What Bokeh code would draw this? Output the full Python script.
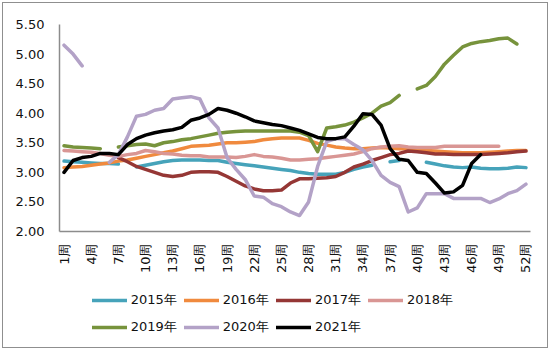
import math
from bokeh.plotting import figure
from bokeh.layouts import column
from bokeh.models import ColumnDataSource, FixedTicker, Legend, LegendItem, PrintfTickFormatter
from bokeh.embed import file_html
from bokeh.resources import INLINE

nan = float("nan")

weeks = list(range(1, 53))
tick_weeks = list(range(1, 53, 3))
tick_labels = {w: f"{w}周" for w in tick_weeks}
y_ticks = [2.0, 2.5, 3.0, 3.5, 4.0, 4.5, 5.0, 5.5]

series_names = ["2015年", "2016年", "2017年", "2018年", "2019年", "2020年", "2021年"]
series_colors = ["#46A3BA", "#F08A3E", "#953735", "#D99694", "#77933C", "#B3A2C7", "#000000"]

y2015 = [3.19, 3.18, 3.17, 3.16, 3.15, 3.15, 3.14, nan, 3.09, 3.12,
         3.15, 3.18, 3.20, 3.21, 3.21, 3.21, 3.20, 3.20, 3.17, 3.15,
         3.13, 3.11, 3.09, 3.07, 3.05, 3.03, 3.00, 2.98, 2.97, 2.97,
         2.97, 3.00, 3.05, 3.09, 3.12, nan, 3.18, 3.20, nan, nan,
         3.17, 3.14, 3.11, 3.09, 3.08, 3.09, 3.07, 3.06, 3.06, 3.07,
         3.09, 3.08]
y2016 = [3.08, 3.09, 3.10, 3.12, 3.14, 3.16, 3.19, 3.21, 3.24, 3.27,
         3.30, 3.33, 3.36, 3.40, 3.44, 3.45, 3.46, 3.48, 3.50, 3.50,
         3.51, 3.52, 3.55, 3.57, 3.58, 3.58, 3.58, 3.54, 3.49, 3.46,
         3.43, 3.41, 3.40, 3.40, 3.41, 3.42, 3.41, 3.40, 3.40, 3.38,
         3.37, 3.36, 3.35, 3.34, 3.33, 3.33, 3.33, 3.34, 3.35, 3.36,
         3.37, 3.37]
y2017 = [nan, nan, nan, nan, nan, nan, 3.25, 3.18, 3.10, 3.05,
         3.00, 2.95, 2.93, 2.95, 3.00, 3.01, 3.01, 3.00, 2.93, 2.85,
         2.77, 2.72, 2.69, 2.69, 2.70, 2.82, 2.89, 2.89, 2.90, 2.91,
         2.93, 3.00, 3.09, 3.14, 3.20, 3.25, 3.30, 3.32, 3.36, 3.35,
         3.33, 3.31, 3.31, 3.30, 3.30, 3.30, 3.30, 3.31, 3.32, 3.33,
         3.35, 3.36]
y2018 = [3.37, 3.36, 3.35, 3.34, 3.32, 3.29, 3.27, 3.30, 3.32, 3.37,
         3.35, 3.32, 3.31, 3.29, 3.28, 3.28, 3.26, 3.26, 3.26, 3.25,
         3.27, 3.30, 3.27, 3.26, 3.24, 3.21, 3.21, 3.22, 3.23, 3.25,
         3.27, 3.29, 3.31, 3.35, 3.40, 3.43, 3.44, 3.45, 3.43, 3.42,
         3.42, 3.42, 3.44, 3.44, 3.44, 3.44, 3.44, 3.44, 3.44, nan,
         nan, nan]
y2019 = [3.45, 3.43, 3.42, 3.41, 3.40, nan, 3.43, 3.45, 3.47, 3.48,
         3.45, 3.50, 3.52, 3.55, 3.57, 3.60, 3.63, 3.66, 3.68, 3.69,
         3.70, 3.70, 3.70, 3.70, 3.70, 3.70, 3.68, 3.62, 3.35, 3.75,
         3.77, 3.80, 3.85, 3.92, 4.00, 4.12, 4.18, 4.30, nan, 4.41,
         4.47, 4.62, 4.83, 4.98, 5.12, 5.18, 5.21, 5.23, 5.26, 5.27,
         5.17, nan]
y2020 = [5.15, 5.00, 4.80, nan, nan, 3.17, 3.30, 3.60, 3.95, 3.98,
         4.05, 4.08, 4.24, 4.26, 4.28, 4.24, 3.92, 3.75, 3.25, 3.05,
         2.88, 2.60, 2.58, 2.47, 2.42, 2.33, 2.27, 2.50, 3.10, 3.52,
         3.57, 3.57, 3.47, 3.38, 3.20, 2.95, 2.83, 2.76, 2.33, 2.40,
         2.64, 2.64, 2.64, 2.56, 2.56, 2.56, 2.56, 2.49, 2.55, 2.64,
         2.69, 2.80]
y2021 = [3.00, 3.20, 3.25, 3.27, 3.32, 3.32, 3.30, 3.47, 3.57, 3.63,
         3.67, 3.70, 3.72, 3.76, 3.88, 3.92, 3.98, 4.08, 4.05, 4.00,
         3.94, 3.87, 3.84, 3.81, 3.79, 3.75, 3.71, 3.65, 3.59, 3.57,
         3.57, 3.60, 3.78, 3.99, 3.98, 3.80, 3.40, 3.22, 3.20, 3.00,
         2.98, 2.82, 2.65, 2.67, 2.78, 3.15, 3.30, nan, nan, nan,
         nan, nan]

series_values = [y2015, y2016, y2017, y2018, y2019, y2020, y2021]

LINE_W = 3.5

# ---------------- main chart ----------------
p = figure(width=544, height=275, x_range=(0.5, 52.5), y_range=(2.0, 5.5),
           output_backend="svg", toolbar_location=None,
           min_border_left=56, min_border_right=17, min_border_top=21,
           min_border_bottom=47)
p.outline_line_color = None
p.xgrid.visible = False
p.ygrid.visible = False
p.background_fill_color = "white"
p.border_fill_color = "white"

sources = []
for name, color, vals in zip(series_names, series_colors, series_values):
    src = ColumnDataSource(data=dict(x=weeks, y=vals))
    sources.append(src)
    p.line("x", "y", source=src, line_color=color, line_width=LINE_W,
           line_join="round", line_cap="round")

p.xaxis.ticker = FixedTicker(ticks=tick_weeks)
p.xaxis.major_label_overrides = tick_labels
p.xaxis.major_label_orientation = math.pi / 2
p.xaxis.major_label_standoff = 12
p.yaxis.ticker = FixedTicker(ticks=y_ticks)
p.yaxis.formatter = PrintfTickFormatter(format="%.2f")
p.yaxis.major_label_standoff = 15
for ax in (p.xaxis[0], p.yaxis[0]):
    ax.axis_line_color = "#8c8c8c"
    ax.axis_line_width = 1.5
    ax.major_tick_line_color = None
    ax.minor_tick_line_color = None
    ax.major_tick_out = 0
    ax.major_tick_in = 0
    ax.major_label_text_color = "#111111"
    ax.major_label_text_font = "DejaVu Sans"
p.yaxis.major_label_text_font_size = "13px"
p.xaxis.major_label_text_font_size = "13px"

# ---------------- legend strip ----------------
# The same series sources are reused; their points fall outside this strip's
# ranges, so only the legend shows.
lg = figure(width=544, height=69, x_range=(-2, -1), y_range=(-2, -1),
            output_backend="svg", toolbar_location=None,
            x_axis_location=None, y_axis_location=None,
            min_border_left=0, min_border_right=0, min_border_top=0,
            min_border_bottom=0)
lg.outline_line_color = None
lg.xgrid.visible = False
lg.ygrid.visible = False
lg.background_fill_color = "white"
lg.border_fill_color = "white"

items = []
for name, color, src in zip(series_names, series_colors, sources):
    r = lg.line("x", "y", source=src, line_color=color, line_width=LINE_W,
                line_cap="round")
    items.append(LegendItem(label=name, renderers=[r]))

legend = Legend(items=items, ncols=4, orientation="horizontal",
                location=(32.7, 10.2))
legend.background_fill_alpha = 0
legend.border_line_color = None
legend.padding = 0
legend.margin = 0
legend.glyph_width = 35
legend.glyph_height = 20
legend.label_height = 20
legend.spacing = 7
legend.label_standoff = 4
legend.label_text_font_size = "13px"
legend.label_text_font = "DejaVu Sans"
legend.label_text_color = "#111111"
lg.add_layout(legend)

layout = column(p, lg, spacing=0)
layout.margin = (2, 0, 0, 2)
layout.styles = {"border": "1px solid #8f8f8f", "background-color": "white"}

open("out.html", "w").write(file_html(layout, INLINE))
